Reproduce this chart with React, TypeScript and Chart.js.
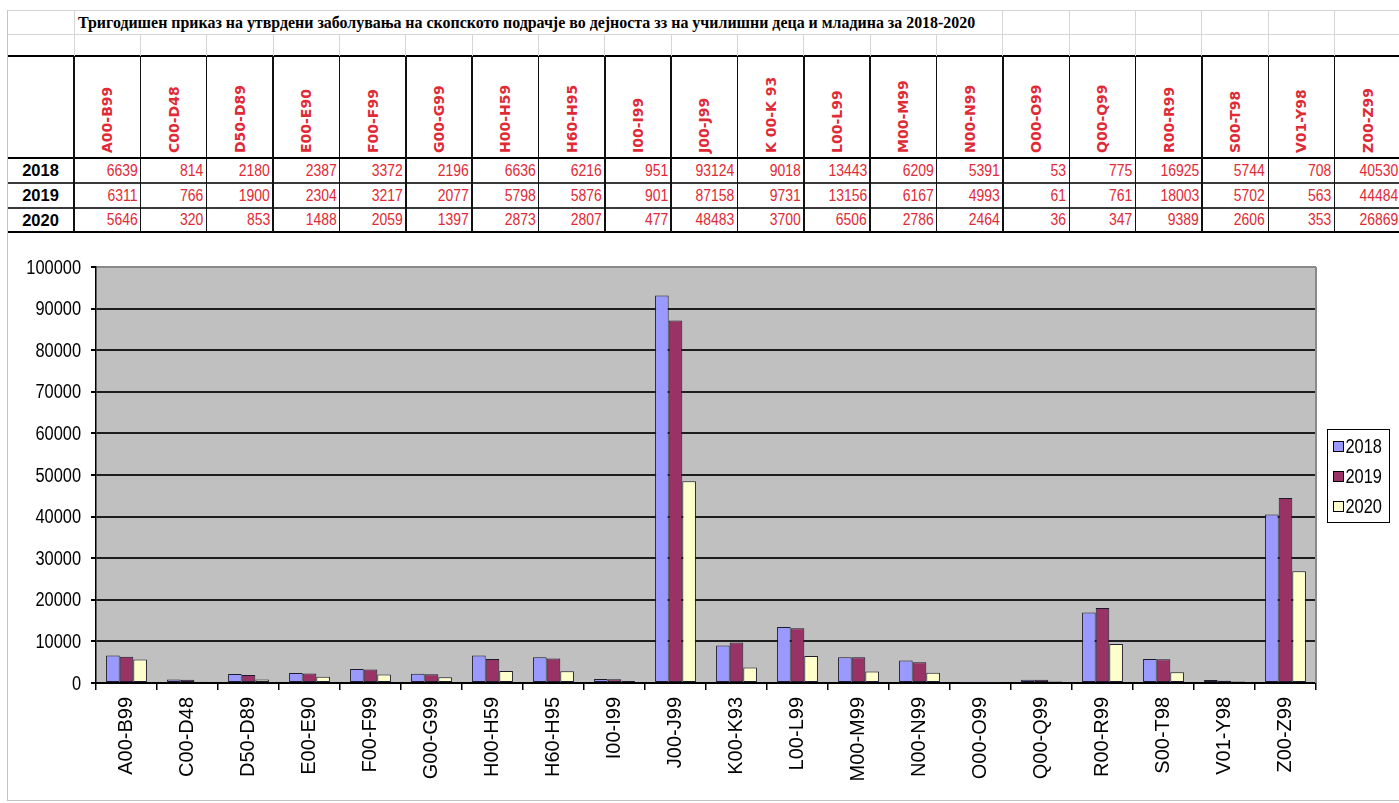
import React, { useEffect, useRef } from "react";
import { Chart, registerables } from "chart.js";

Chart.register(...registerables);

const title =
  "Тригодишен приказ на утврдени заболувања на скопското подрачје во дејноста зз на училишни деца и младина за 2018-2020";

const categories = [
  "A00-B99", "C00-D48", "D50-D89", "E00-E90", "F00-F99", "G00-G99", "H00-H59",
  "H60-H95", "I00-I99", "J00-J99", "K00-K93", "L00-L99", "M00-M99", "N00-N99",
  "O00-O99", "Q00-Q99", "R00-R99", "S00-T98", "V01-Y98", "Z00-Z99",
];

const headerLabels = [
  "A00-B99", "C00-D48", "D50-D89", "E00-E90", "F00-F99", "G00-G99", "H00-H59",
  "H60-H95", "I00-I99", "J00-J99", "K 00-K 93", "L00-L99", "M00-M99", "N00-N99",
  "O00-O99", "Q00-Q99", "R00-R99", "S00-T98", "V01-Y98", "Z00-Z99",
];

const years = ["2018", "2019", "2020"];

const values2018 = [6639, 814, 2180, 2387, 3372, 2196, 6636, 6216, 951, 93124, 9018, 13443, 6209, 5391, 53, 775, 16925, 5744, 708, 40530];
const values2019 = [6311, 766, 1900, 2304, 3217, 2077, 5798, 5876, 901, 87158, 9731, 13156, 6167, 4993, 61, 761, 18003, 5702, 563, 44484];
const values2020 = [5646, 320, 853, 1488, 2059, 1397, 2873, 2807, 477, 48483, 3700, 6506, 2786, 2464, 36, 347, 9389, 2606, 353, 26869];

const seriesColors = ["#9999FF", "#993366", "#FFFFCC"];
const yMax = 100000;
const yStep = 10000;

const SANS = "'Liberation Sans', Arial, sans-serif";
const NARROW_SCALE = 0.82;
const RED = "#e02a36";

// table layout
const COL0 = 74;
const COLW = 66.35;
const NCOL = 20;
const rowTops = [158, 183, 208];
const rowBottoms = [183, 208, 232];

function HLine({ y, x1, x2, w, c }: { y: number; x1: number; x2: number; w: number; c: string }) {
  return <div style={{ position: "absolute", left: x1, top: y - w / 2, width: x2 - x1, height: w, background: c }} />;
}
function VLine({ x, y1, y2, w, c }: { x: number; y1: number; y2: number; w: number; c: string }) {
  return <div style={{ position: "absolute", left: x - w / 2, top: y1, width: w, height: y2 - y1, background: c }} />;
}

function Table() {
  const els: any[] = [];
  const light = "#d6d6d6";
  els.push(<HLine key="h10" y={10} x1={7} x2={1399} w={1} c={light} />);
  els.push(<HLine key="h34" y={34} x1={7} x2={1399} w={1} c={light} />);
  els.push(<HLine key="h56" y={56} x1={7} x2={1399} w={2} c="#000" />);
  els.push(<HLine key="h158" y={158} x1={7} x2={1399} w={2} c="#000" />);
  els.push(<HLine key="h183" y={183} x1={7} x2={1399} w={2} c="#3a3a3a" />);
  els.push(<HLine key="h208" y={208} x1={7} x2={1399} w={2} c="#3a3a3a" />);
  els.push(<HLine key="h232" y={232} x1={7} x2={1399} w={2} c="#000" />);
  els.push(<VLine key="v7" x={7} y1={10} y2={801} w={1} c="#c4c4c4" />);
  for (let i = 0; i <= NCOL; i++) {
    const x = COL0 + i * COLW;
    if (i === 0 || i >= 14) els.push(<VLine key={"vt" + i} x={x} y1={10} y2={34} w={1} c={light} />);
    els.push(<VLine key={"ve" + i} x={x} y1={34} y2={56} w={1} c={light} />);
    els.push(<VLine key={"vb" + i} x={x} y1={56} y2={232} w={1.5} c="#111" />);
  }
  els.push(
    <div key="title" style={{ position: "absolute", left: 78, top: 10, height: 24, lineHeight: "24px", whiteSpace: "nowrap", fontFamily: "'Liberation Serif', 'Times New Roman', serif", fontWeight: "bold", fontSize: 17.5, color: "#000", transform: "scaleX(0.91)", transformOrigin: "0 50%" }}>
      {title}
    </div>
  );
  headerLabels.forEach((lab, i) => {
    const cx = COL0 + i * COLW + COLW / 2;
    els.push(
      <div key={"hl" + i} style={{ position: "absolute", left: cx, top: 153, width: 0, height: 0 }}>
        <div style={{ position: "absolute", left: 0, top: 0, transform: "rotate(-90deg)", transformOrigin: "0 0", whiteSpace: "nowrap", fontFamily: "'DejaVu Sans', Verdana, sans-serif", fontWeight: "bold", fontSize: 14, color: RED, lineHeight: "16px" }}>
          <span style={{ position: "relative", top: -8 }}>{lab}</span>
        </div>
      </div>
    );
  });
  const all = [values2018, values2019, values2020];
  years.forEach((yr, r) => {
    const top = rowTops[r];
    const h = rowBottoms[r] - rowTops[r];
    els.push(
      <div key={"yr" + r} style={{ position: "absolute", left: 7, top, width: 67, height: h, lineHeight: h + "px", textAlign: "center", fontFamily: SANS, fontWeight: "bold", fontSize: 16.5, color: "#000" }}>
        {yr}
      </div>
    );
    all[r].forEach((v, i) => {
      els.push(
        <div key={"c" + r + "_" + i} style={{ position: "absolute", left: COL0 + i * COLW, top, width: COLW - 3, height: h, lineHeight: h + "px", textAlign: "right", fontFamily: SANS, fontSize: 17, color: RED, whiteSpace: "nowrap" }}>
          <span style={{ display: "inline-block", transform: `scaleX(${NARROW_SCALE})`, transformOrigin: "100% 50%" }}>{v}</span>
        </div>
      );
    });
  });
  return <>{els}</>;
}

const bgPlugin = {
  id: "plotBg",
  beforeDraw(chart: any) {
    const { ctx, chartArea: a } = chart;
    ctx.save();
    ctx.fillStyle = "#C0C0C0";
    ctx.fillRect(a.left, a.top, a.right - a.left, a.bottom - a.top);
    ctx.restore();
  },
  beforeDatasetsDraw(chart: any) {
    const { ctx, chartArea: a } = chart;
    ctx.save();
    ctx.strokeStyle = "#8a8a8a";
    ctx.lineWidth = 2;
    ctx.beginPath();
    ctx.moveTo(a.right, a.top);
    ctx.lineTo(a.right, a.bottom);
    ctx.stroke();
    ctx.restore();
  },
};

// y tick labels drawn from the y scale's own ticks, in a condensed face
const yLabelPlugin = {
  id: "narrowYLabels",
  afterDraw(chart: any) {
    const { ctx } = chart;
    const s = chart.scales.y;
    ctx.save();
    ctx.font = "20px " + SANS;
    ctx.fillStyle = "#000";
    ctx.textAlign = "right";
    ctx.textBaseline = "middle";
    s.ticks.forEach((t: any) => {
      const y = s.getPixelForValue(t.value);
      ctx.save();
      ctx.translate(s.right - 15, y + 1);
      ctx.scale(NARROW_SCALE, 1);
      ctx.fillText(String(t.value), 0, 0);
      ctx.restore();
    });
    ctx.restore();
  },
};

const legendPlugin = {
  id: "boxLegend",
  afterDraw(chart: any) {
    const { ctx, chartArea: a } = chart;
    const w = 62;
    const h = 93;
    const x0 = a.right + 11.5;
    const y0 = Math.round((a.top + a.bottom) / 2 - h / 2) + 0.5;
    ctx.save();
    ctx.fillStyle = "#fff";
    ctx.fillRect(x0, y0, w, h);
    ctx.strokeStyle = "#000";
    ctx.lineWidth = 1;
    ctx.strokeRect(x0, y0, w, h);
    ctx.font = "20px " + SANS;
    ctx.textBaseline = "middle";
    ctx.textAlign = "left";
    chart.data.datasets.forEach((ds: any, i: number) => {
      const cy = y0 + 17 + i * 30;
      ctx.fillStyle = ds.backgroundColor;
      ctx.fillRect(x0 + 6, cy - 5, 10, 10);
      ctx.strokeStyle = "#000";
      ctx.strokeRect(x0 + 6, cy - 5, 10, 10);
      ctx.fillStyle = "#000";
      ctx.save();
      ctx.translate(x0 + 18, cy + 1);
      ctx.scale(NARROW_SCALE, 1);
      ctx.fillText(ds.label, 0, 0);
      ctx.restore();
    });
    ctx.restore();
  },
};

function BarChart() {
  const ref = useRef<HTMLCanvasElement | null>(null);
  useEffect(() => {
    if (!ref.current) return;
    const chart = new Chart(ref.current, {
      type: "bar",
      data: {
        labels: categories,
        datasets: [values2018, values2019, values2020].map((d, i) => ({
          label: years[i],
          data: d,
          backgroundColor: seriesColors[i],
          borderColor: "#1a1a2a",
          borderWidth: 1,
          borderSkipped: false,
          categoryPercentage: 0.67,
          barPercentage: 1,
        })),
      },
      options: {
        animation: false,
        responsive: false,
        layout: { padding: { top: 27, right: 83, left: 0, bottom: 0 } },
        plugins: { legend: { display: false }, tooltip: { enabled: false } },
        scales: {
          x: {
            offset: true,
            grid: { offset: true, drawOnChartArea: false, drawTicks: true, tickLength: 7, tickColor: "#000", lineWidth: 1.5 },
            border: { color: "#000", width: 2 },
            ticks: { minRotation: 90, maxRotation: 90, autoSkip: false, color: "#000", font: { family: SANS, size: 20 }, padding: 7 },
            afterFit: (s: any) => { s.height = 117; },
          },
          y: {
            min: 0,
            max: yMax,
            ticks: { stepSize: yStep, display: false },
            grid: {
              color: (c: any) => (c.tick && c.tick.value === yMax ? "#8a8a8a" : "#1e1e1e"),
              lineWidth: 2,
              tickLength: 5,
              tickColor: "#000",
            },
            border: { color: "#000", width: 1.5 },
            afterFit: (s: any) => { s.width = 88; },
          },
        },
      } as any,
      plugins: [bgPlugin, yLabelPlugin, legendPlugin],
    });
    return () => chart.destroy();
  }, []);
  return <canvas ref={ref} width={1391} height={560} style={{ position: "absolute", left: 8, top: 240, width: 1391, height: 560 }} />;
}

export default function App() {
  return (
    <div style={{ position: "absolute", left: 0, top: 0, width: 1399, height: 803, background: "#fff", overflow: "hidden" }}>
      <Table />
      <HLine y={800} x1={7} x2={1399} w={1} c="#c4c4c4" />
      <BarChart />
    </div>
  );
}
